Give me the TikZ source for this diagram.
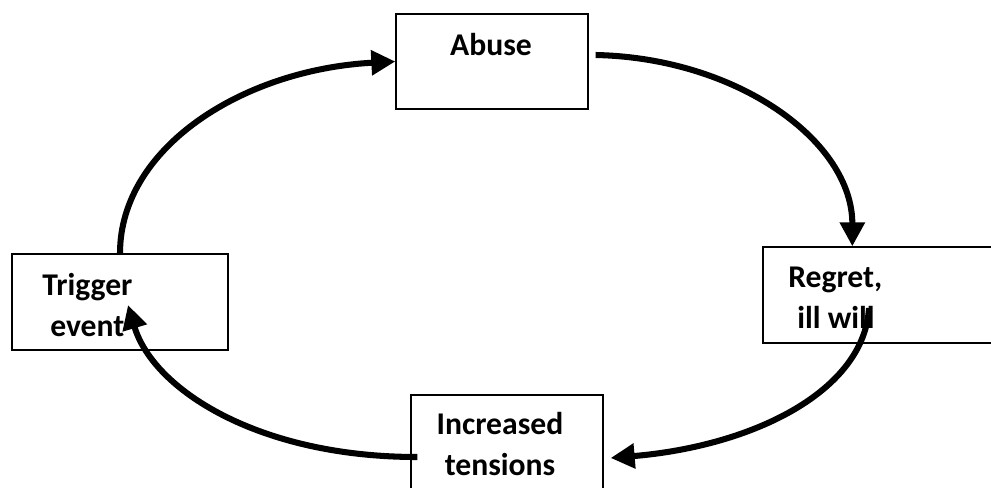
\documentclass[tikz,border=0pt]{standalone}
\usepackage{fontspec}
\setmainfont{Carlito}
\usetikzlibrary{arrows.meta,calc}
\tikzstyle{stage}=[draw,rectangle,line width=0.9pt,inner sep=0pt]
\tikzstyle{stagetext}=[inner sep=0pt,font=\fontsize{22.5}{28.5}\selectfont\bfseries]
\tikzstyle{flow} = [draw,line width=4.3pt,-{Triangle[length=0.6cm,width=0.6cm]}]

\begin{document}
\begin{tikzpicture}[x=0.025cm,y=-0.025cm]

            \useasboundingbox (0,0) rectangle (991,487);

            \node[stage,minimum width=4.8cm,minimum height=2.375cm] (abuse) at (492,61.5) {};
            \node[stage,minimum width=6cm,minimum height=2.4cm] (regret) at (883,295) {};
            \node[stage,minimum width=4.8cm,minimum height=2.75cm] (tension) at (507,450) {};
            \node[stage,minimum width=5.4cm,minimum height=2.4cm] (trigger) at (120,302) {};

            \node[stagetext,anchor=base] (abusetxt) at (491,55) {Abuse};
            \node[stagetext,anchor=base west,align=left] (regrettxt) at (788,328) {Regret,\\\hspace*{0.225cm}ill will};
            \node[stagetext,anchor=base,align=center] (tensiontxt) at (500,475) {Increased\\tensions};
            \node[stagetext,anchor=base west,align=left] (triggertxt) at (42,336) {Trigger\\\hspace*{0.2cm}event};

            \path[flow] (trigger.north) .. controls +(0,-106) and +(-152,8) .. (abuse.west);
            \path[flow] ($(abuse.east)+(7,-6.5)$) .. controls +(142,3) and +(0,-105) .. ($(regret.north west)+(90,0)$);
            \path[flow] ($(regret.center)+(-14,13)$) .. controls +(-5,83) and +(143,-12) .. ($(tension.east)+(7,8)$);
            \path[flow] ($(tension.west)+(7,7)$) .. controls +(-160,0) and +(25,84) .. ($(trigger.center)+(8,3)$);

\end{tikzpicture}
\end{document}
